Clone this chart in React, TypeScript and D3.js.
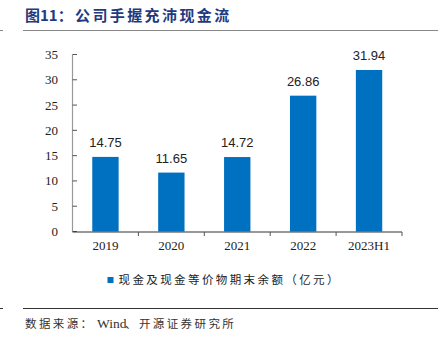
import React from "react";
import * as d3 from "d3";

const categories = ["2019", "2020", "2021", "2022", "2023H1"];
const values = [14.75, 11.65, 14.72, 26.86, 31.94];
const valueLabels = ["14.75", "11.65", "14.72", "26.86", "31.94"];
const yTicks = [0, 5, 10, 15, 20, 25, 30, 35];
const titlePrefix = "图11：";
const titleMain = "公司手握充沛现金流";
const legendLabel = "现金及现金等价物期末余额（亿元）";
const sourcePrefix = "数据来源：";
const sourceWind = "Wind";
const sourceRest = "、开源证券研究所";

export default function App() {
  const W = 438, H = 338;
  const x = d3.scaleBand<string>().domain(categories).range([72.5, 402]).paddingInner(0.6).paddingOuter(0.3);
  const y = d3.scaleLinear().domain([0, 35]).range([231.5, 54.5]);
  const band = d3.scaleBand<string>().domain(categories).range([72.5, 402]);
  const barColor = "#0070C0";
  const serif = "'Liberation Serif', 'Times New Roman', serif";
  const cjk = "'Noto Sans CJK SC', sans-serif";
  return (
    <svg width={W} height={H} style={{ position: "absolute", left: 0, top: 0, background: "#fff" }}>
      <text x={25} y={21} fontFamily={cjk} fontWeight="bold" fontSize={15} fill="#1F3A80">{titlePrefix}</text>
      <text x={75} y={21} fontFamily={cjk} fontWeight="bold" fontSize={15} letterSpacing={2.4} fill="#1F3A80">{titleMain}</text>
      <line x1={0} x2={3} y1={30.5} y2={30.5} stroke="#888" strokeWidth={1} />
      <line x1={23} x2={438} y1={30.5} y2={30.5} stroke="#888" strokeWidth={1.2} />
      {/* y axis */}
      <line x1={72.5} x2={72.5} y1={y(35)} y2={y(0)} stroke="#999" strokeWidth={1.2} />
      {yTicks.map((t) => (
        <g key={t}>
          <line x1={72.5} x2={77} y1={y(t)} y2={y(t)} stroke="#555" strokeWidth={1} />
          <text x={58} y={y(t) + 4.5} textAnchor="end" fontFamily={serif} fontSize={13} fill="#222">{t}</text>
        </g>
      ))}
      {/* bars */}
      {categories.map((c, i) => (
        <g key={c}>
          <rect x={x(c)} y={y(values[i])} width={x.bandwidth()} height={y(0) - y(values[i])} fill={barColor} />
          <text x={(x(c) as number) + x.bandwidth() / 2} y={y(values[i]) - 10} textAnchor="middle" fontFamily="'Liberation Sans', Arial, sans-serif" fontSize={13} fill="#222">{valueLabels[i]}</text>
          <text x={(band(c) as number) + band.bandwidth() / 2} y={250} textAnchor="middle" fontFamily={serif} fontSize={13} fill="#222">{c}</text>
        </g>
      ))}
      {/* x axis */}
      <line x1={72.5} x2={402} y1={232} y2={232} stroke="#333" strokeWidth={1.2} />
      {categories.map((c) => (
        <line key={c} x1={(band(c) as number) + band.bandwidth()} x2={(band(c) as number) + band.bandwidth()} y1={232} y2={236} stroke="#555" strokeWidth={1} />
      ))}
      {/* legend */}
      <rect x={107.5} y={277} width={6} height={6} fill={barColor} />
      <text x={118.5} y={283.5} fontFamily={cjk} fontSize={11.5} letterSpacing={2.4} fill="#222">{legendLabel}</text>
      <line x1={0} x2={3} y1={308.5} y2={308.5} stroke="#333" strokeWidth={1} />
      <line x1={23} x2={438} y1={308.5} y2={308.5} stroke="#333" strokeWidth={1} />
      <text x={25} y={328} fontFamily={cjk} fontSize={11.5} fill="#333">
        <tspan letterSpacing={2.4}>{sourcePrefix}</tspan>
        <tspan x={97} fontFamily={serif} fontSize={13.5} letterSpacing={0}>{sourceWind}</tspan>
        <tspan x={125} letterSpacing={2.4}>{sourceRest}</tspan>
      </text>
    </svg>
  );
}
